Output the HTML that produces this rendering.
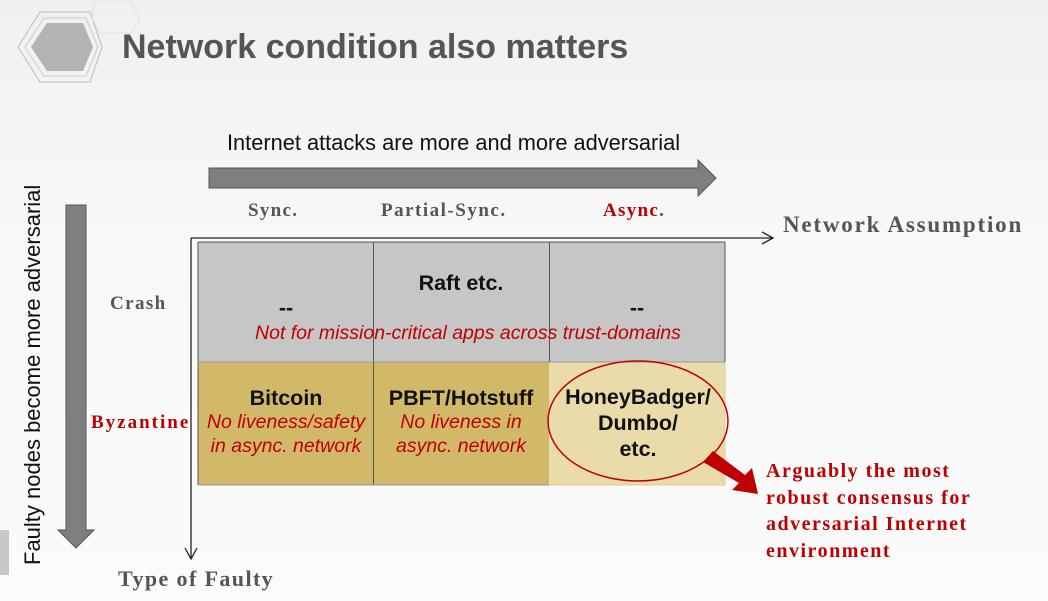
<!DOCTYPE html>
<html><head><meta charset="utf-8"><style>
html,body{margin:0;padding:0}
body{width:1048px;height:601px;overflow:hidden;background:linear-gradient(#f0f0f0,#f8f8f8 40%,#fbfbfb);position:relative;font-family:"Liberation Sans",sans-serif}
.a{position:absolute;white-space:nowrap}
.serif{font-family:"Liberation Serif",serif;font-weight:bold}
.c{position:absolute;text-align:center;font-weight:bold;font-size:21.5px;color:#111}
.r{color:#c00000;font-style:italic;font-weight:normal;font-size:19.5px;line-height:24px}
</style></head><body>
<svg width="1048" height="601" style="position:absolute;left:0;top:0">
 <polygon points="40,12 90,12 102,47 90,82 40,82 18,47" fill="none" stroke="#bbb" stroke-width="1"/>
 <polygon points="44,18 86,18 98,47 86,76 44,76 25,47" fill="none" stroke="#ccc"/>
 <polygon points="47,23 83,23 93,47 83,71 47,71 31,47" fill="#b3b3b3"/>
 <polygon points="95,0 130,0 140,20 130,33 100,33 92,18" fill="none" stroke="#e2e2e2"/>
 <rect x="0" y="530" width="9" height="45" fill="#c8c8c8"/>
 <polygon points="209,168 698,168 698,160 716,178 698,196 698,188 209,188" fill="#7f7f7f" stroke="#555" stroke-width="1"/>
 <polygon points="66,205 86,205 86,530 94,530 76,548 58,530 66,530" fill="#7f7f7f" stroke="#555" stroke-width="1"/>
 <rect x="198" y="242" width="527" height="120" fill="#c6c6c6"/>
 <rect x="198" y="362" width="351" height="123" fill="#d2b969"/>
 <rect x="549" y="362" width="176" height="123" fill="#e9dbaa"/>
 <g stroke="#555" stroke-width="1" fill="none">
  <line x1="198" y1="242" x2="725" y2="242"/>
  <line x1="198" y1="242" x2="198" y2="485"/>
  <line x1="373.5" y1="242" x2="373.5" y2="485"/>
  <line x1="549.5" y1="242" x2="549.5" y2="362"/>
  <line x1="725" y1="242" x2="725" y2="362"/>
  <line x1="198" y1="362" x2="725" y2="362" stroke="#999"/>
  <line x1="198" y1="485" x2="549" y2="485" stroke="#999"/>
  <line x1="549" y1="485" x2="725" y2="485" stroke="#e0cf90"/>
  <line x1="725" y1="362" x2="725" y2="485" stroke="#e0cf90"/>
 </g>
 <g stroke="#222" stroke-width="1.3" fill="none">
  <line x1="191" y1="238" x2="772" y2="238"/>
  <polyline points="762,232 773,238 762,244"/>
  <line x1="191" y1="238" x2="191" y2="558"/>
  <polyline points="185,548 191,559 197,548"/>
 </g>
 <ellipse cx="638" cy="421" rx="90" ry="60" fill="none" stroke="#c00000" stroke-width="1.5"/>
 <polygon points="703,462 713,451 745,475 752,468 758,494 732,490 739,483" fill="#c00000"/>
</svg>
<div class="a" style="left:122px;top:28px;font-size:34px;font-weight:bold;color:#555">Network condition also matters</div>
<div class="a" style="left:227px;top:130px;font-size:21.8px;color:#111">Internet attacks are more and more adversarial</div>
<div class="a" style="left:20px;top:565px;font-size:22px;color:#111;transform:rotate(-90deg);transform-origin:0 0">Faulty nodes become more adversarial</div>
<div class="a serif" style="left:248px;top:200px;font-size:19px;color:#555;letter-spacing:1.3px">Sync.</div>
<div class="a serif" style="left:381px;top:200px;font-size:19px;color:#555;letter-spacing:1.5px">Partial-Sync.</div>
<div class="a serif" style="left:603px;top:200px;font-size:19px;color:#c00000;letter-spacing:1.3px">Async<span style="color:#555">.</span></div>
<div class="a serif" style="left:783px;top:212px;font-size:23px;color:#555;letter-spacing:1.8px">Network Assumption</div>
<div class="a serif" style="left:110px;top:293px;font-size:19px;color:#555;letter-spacing:1.4px">Crash</div>
<div class="a serif" style="left:91px;top:412px;font-size:19px;color:#c00000;letter-spacing:2px">Byzantine</div>
<div class="a serif" style="left:118px;top:566px;font-size:22px;color:#555;letter-spacing:1.4px">Type of Faulty</div>
<div class="c" style="left:198px;width:176px;top:296px">--</div>
<div class="c" style="left:373px;width:176px;top:271px">Raft etc.</div>
<div class="c" style="left:549px;width:176px;top:296px">--</div>
<div class="a r" style="left:255px;top:321px">Not for mission-critical apps across trust-domains</div>
<div class="c" style="left:198px;width:176px;top:387px;line-height:23px">Bitcoin<br><span class="r">No liveness/safety<br>in async. network</span></div>
<div class="c" style="left:373px;width:176px;top:387px;line-height:23px">PBFT/Hotstuff<br><span class="r">No liveness in<br>async. network</span></div>
<div class="c" style="left:549px;width:178px;top:384px;line-height:26px">HoneyBadger/<br>Dumbo/<br>etc.</div>
<div class="a serif" style="left:766px;top:458px;font-size:20px;line-height:26.5px;color:#c00000;letter-spacing:1.5px">Arguably the most<br>robust consensus for<br>adversarial Internet<br>environment</div>
</body></html>
